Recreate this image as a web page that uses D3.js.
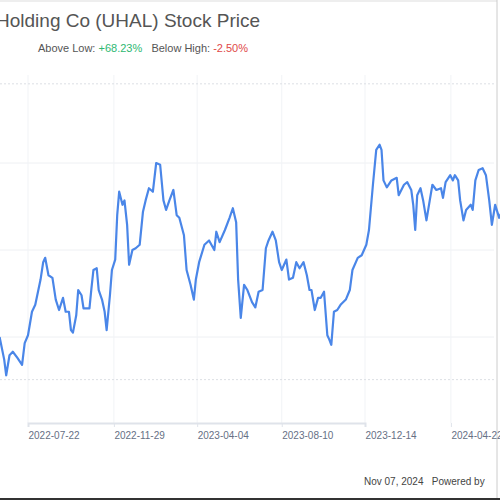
<!DOCTYPE html>
<html><head><meta charset="utf-8">
<script src="https://cdn.jsdelivr.net/npm/d3@7/dist/d3.min.js"></script>
<style>body{margin:0;background:#fff}svg{display:block;font-family:"Liberation Sans",Arial,sans-serif}</style>
</head><body>
<svg id="c" width="500" height="500"></svg>
<script>
const baseDate = "2022-07-22";
const dayOffsets = [-43,-36,-33,-28,-23,-16,-9,-5,0,6,11,19,23,26,31,37,42,47,53,57,62,65,68,73,76,81,84,88,93,96,99,104,107,112,116,119,124,127,132,135,138,143,146,150,153,158,163,169,174,178,183,189,194,200,205,209,214,220,225,229,236,240,246,251,254,259,267,274,282,285,290,298,305,310,315,318,322,327,332,339,
344,349,355,360,364,370,375,380,384,391,395,401,406,411,417,422,426,429,434,439,443,448,453,456,459,463,468,473,481,487,491,499,505,512,516,522,527,532,535,538,543,550,558,561,569,574,580,583,586,589,594,598,603,608,612,618,625,628,632,639,643,646,651,654,659,663,670,673,677,682,688,693,698,702,707,713,718,722,727,732];
const prices = [50.0,47.4,45.6,47.9,48.3,47.6,46.8,49.3,50.2,52.9,53.7,56.6,58.6,59.1,57.1,56.8,54.3,53.1,54.5,52.9,52.9,50.8,50.5,52.5,55.4,54.8,53.3,53.3,53.3,55.6,57.7,57.9,55.4,54.3,52.9,50.8,54.8,57.7,58.9,64.0,66.7,65.2,65.7,62.9,58.3,60.0,60.2,60.6,64.4,65.7,67.1,66.7,70.0,69.8,65.7,64.6,65.7,66.9,64.0,63.7,61.7,57.7,56.0,54.3,56.6,58.6,60.6,61.1,60.0,62.1,60.9,62.3,63.7,64.8,63.2,56.6,52.2,56.0,55.4,54.0,
53.4,55.2,55.4,60.2,61.1,62.1,61.1,58.6,57.7,58.9,56.6,56.8,58.6,57.9,58.6,57.1,55.4,55.4,53.1,54.5,54.5,55.2,50.2,49.7,49.1,52.9,53.1,53.7,54.3,55.4,57.7,59.1,59.4,60.6,62.3,67.5,71.5,72.1,71.5,68.0,67.2,68.0,68.3,66.3,67.5,67.8,66.9,65.2,62.3,66.3,67.1,65.7,63.4,65.7,67.5,66.9,67.1,66.0,67.8,68.6,68.0,68.6,68.0,65.7,63.4,64.6,65.2,64.6,68.0,69.2,69.4,68.6,65.7,62.9,65.2,63.7,64.6,63.2,62.3,60.6];
const tickDates = ["2022-03-16","2022-07-22","2022-11-29","2023-04-04","2023-08-10","2023-12-14","2024-04-22"];
const gridValues = [70,60,50];
const refHigh = 79.1, refLow = 45.1;

const parse = d3.timeParse("%Y-%m-%d");
const b = parse(baseDate);
const data = dayOffsets.map((o,i)=>({d:d3.timeDay.offset(b,o), v:prices[i]}));
const svg = d3.select("#c");
const x = d3.scaleTime().domain([parse("2022-07-22"), parse("2023-12-14")]).range([28,365]);
const y = d3.scaleLinear().domain([50,70]).range([337,163]);

svg.append("line").attr("x1",0).attr("x2",497).attr("y1",1).attr("y2",1).attr("stroke","#ddd");
svg.append("line").attr("x1",497).attr("x2",497).attr("y1",0).attr("y2",500).attr("stroke","#ccc");
svg.append("line").attr("x1",0).attr("x2",500).attr("y1",499).attr("y2",499).attr("stroke","#333").attr("stroke-width",2);

const g = svg.append("g");
g.selectAll(".hg").data(gridValues).join("line").attr("x1",0).attr("x2",494)
 .attr("y1",d=>y(d)).attr("y2",d=>y(d)).attr("stroke","#eef0f3");
g.selectAll(".vg").data(tickDates).join("line").attr("x1",d=>x(parse(d))).attr("x2",d=>x(parse(d)))
 .attr("y1",75).attr("y2",423).attr("stroke","#f1f3f6");
g.selectAll(".ref").data([refHigh,refLow]).join("line").attr("x1",0).attr("x2",494)
 .attr("y1",d=>y(d)).attr("y2",d=>y(d)).attr("stroke","#dcdfe4").attr("stroke-dasharray","2,2");

const ax = svg.append("g").attr("transform","translate(0,423)")
 .call(d3.axisBottom(x).tickValues(tickDates.map(parse)).tickSize(4).tickFormat(d3.timeFormat("%Y-%m-%d")));
ax.select(".domain").attr("stroke","#dfe3ea").attr("stroke-width",2);
ax.selectAll(".tick line").attr("stroke","#dfe3ea");
ax.selectAll(".tick text").attr("text-anchor","start").attr("x",0).attr("dy","0.9em")
 .attr("fill","#667085").attr("font-size",10);

svg.append("path").datum(data).attr("fill","none").attr("stroke","#4a86e8").attr("stroke-width",2.2)
 .attr("stroke-linejoin","round").attr("d",d3.line().x(d=>x(d.d)).y(d=>y(d.v)));

svg.append("text").attr("x",260).attr("y",27).attr("text-anchor","end").attr("font-size",19)
 .attr("fill","#555").text("U-Haul Holding Co (UHAL) Stock Price");
const st = svg.append("text").attr("x",248).attr("y",52).attr("text-anchor","end").attr("font-size",11)
 .attr("xml:space","preserve");
st.append("tspan").attr("fill","#555").text("Above Low: ");
st.append("tspan").attr("fill","#2eb872").text("+68.23%");
st.append("tspan").attr("fill","#555").text("   Below High: ");
st.append("tspan").attr("fill","#e04848").text("-2.50%");
svg.append("text").attr("x",364).attr("y",485).attr("font-size",10).attr("fill","#444")
 .attr("xml:space","preserve").text("Nov 07, 2024   Powered by");
</script>
</body></html>
